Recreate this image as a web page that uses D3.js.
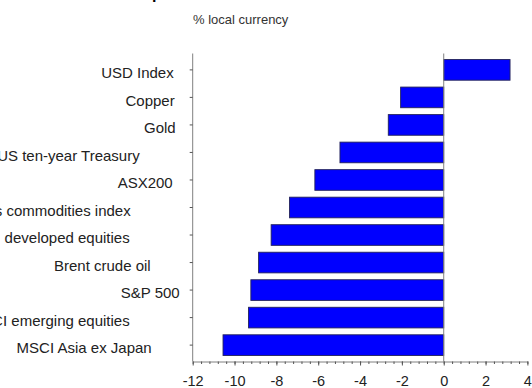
<!DOCTYPE html>
<html lang="en">

<head>
  <meta charset="UTF-8">
  <title>Asset performance</title>
  <style>
    * {
      box-sizing: border-box;
    }

    body {
      margin: 0;
      background: #fff;
    }

    #main {
      width: 532px;
      height: 388px;
      overflow: hidden;
    }

    text {
      font-family: "Liberation Sans", Arial, sans-serif;
    }
  </style>
</head>

<body>
  <div id="main"></div>
  <script src="https://cdnjs.cloudflare.com/ajax/libs/d3/7.8.5/d3.min.js"></script>
  <script>
    // 1. data
    const categories = [
      'USD Index', 'Copper', 'Gold', 'US ten-year Treasury', 'ASX200',
      'Goldman Sachs commodities index', 'MSCI developed equities', 'Brent crude oil',
      'S&P 500', 'MSCI emerging equities', 'MSCI Asia ex Japan'
    ]
    const values = [3.17, -2.06, -2.65, -4.96, -6.16, -7.37, -8.25, -8.85, -9.22, -9.33, -10.55]
    const xTicks = [-12, -10, -8, -6, -4, -2, 0, 2, 4]
    const unitLabel = '% local currency'
    const title = 'Asset performance'

    // 2. container
    const [width, height] = [532, 388]
    const svg = d3.select('#main').append('svg')
      .attr('width', width)
      .attr('height', height)
      .attr('viewBox', `0 0 ${width} ${height}`)

    const plot = { left: 192.7, right: 527.4, top: 53.5, bottom: 361.5 }

    // the source chart does not line its category labels up on one edge;
    // horizontal nudge (px) of each label, same order as categories
    const labelNudge = [-2, -1, 0, -36, -3, -45, -46, -25, 4, -46, -24]

    // 3. scales
    const xScale = d3.scaleLinear()
      .domain([xTicks[0], xTicks[xTicks.length - 1]])
      .range([plot.left, plot.right])

    const yScale = d3.scaleBand()
      .domain(categories)
      .range([plot.top, plot.bottom])
      .paddingInner(0.25)
      .paddingOuter(0.22)

    // title, mostly cut off by the top of the picture
    svg.append('text')
      .attr('x', 104)
      .attr('y', -0.6)
      .style('font-size', '16px')
      .style('font-weight', 'bold')
      .attr('fill', '#000')
      .text(title)

    svg.append('text')
      .attr('x', 193)
      .attr('y', 24)
      .style('font-size', '13px')
      .attr('fill', '#333')
      .text(unitLabel)

    // 4. bars
    svg.append('g')
      .selectAll('rect')
      .data(values)
      .join('rect')
      .attr('x', d => xScale(Math.min(0, d)))
      .attr('y', (d, i) => yScale(categories[i]))
      .attr('width', d => Math.abs(xScale(d) - xScale(0)))
      .attr('height', yScale.bandwidth())
      .attr('fill', '#0000ff')
      .attr('stroke', '#22225a')
      .attr('stroke-width', 0.9)

    // zero line
    svg.append('line')
      .attr('x1', xScale(0)).attr('x2', xScale(0))
      .attr('y1', plot.top).attr('y2', plot.bottom)
      .attr('stroke', '#808080')
      .attr('stroke-width', 1)

    // 5. y axis (category ticks to the left)
    const yAxis = d3.axisLeft(yScale).tickSize(3).tickPadding(14).tickSizeOuter(0)
    const gy = svg.append('g')
      .attr('transform', `translate(${plot.left} 0)`)
      .call(yAxis)
    gy.select('.domain')
      .attr('d', `M0,${plot.top}V${plot.bottom}`)
      .attr('stroke', '#808080')
    gy.selectAll('.tick line').attr('stroke', '#555')
    gy.selectAll('.tick text')
      .attr('dy', '0.75em')
      .attr('y', -3)
      .attr('dx', (d, i) => labelNudge[i])
      .style('font-size', '15px')
      .attr('fill', '#222')

    // 6. x axis: minor ticks every 0.4, labelled ticks every 2
    const minor = d3.range(0, 41).map(i => +(xTicks[0] + i * 0.4).toFixed(1))
    const gMinor = svg.append('g')
      .attr('transform', `translate(0 ${plot.bottom})`)
      .call(d3.axisBottom(xScale).tickValues(minor).tickSize(2.5).tickFormat('').tickSizeOuter(0))
    gMinor.select('.domain').attr('stroke', '#808080')
    gMinor.selectAll('.tick line').attr('stroke', '#555')

    const gx = svg.append('g')
      .attr('transform', `translate(0 ${plot.bottom})`)
      .call(d3.axisBottom(xScale).tickValues(xTicks).tickSize(4).tickPadding(10).tickSizeOuter(0)
        .tickFormat(d => String(d)))
    gx.select('.domain').remove()
    gx.selectAll('.tick line').attr('stroke', '#555')
    gx.selectAll('.tick text')
      .style('font-size', '14.5px')
      .attr('fill', '#222')
  </script>
</body>

</html>
